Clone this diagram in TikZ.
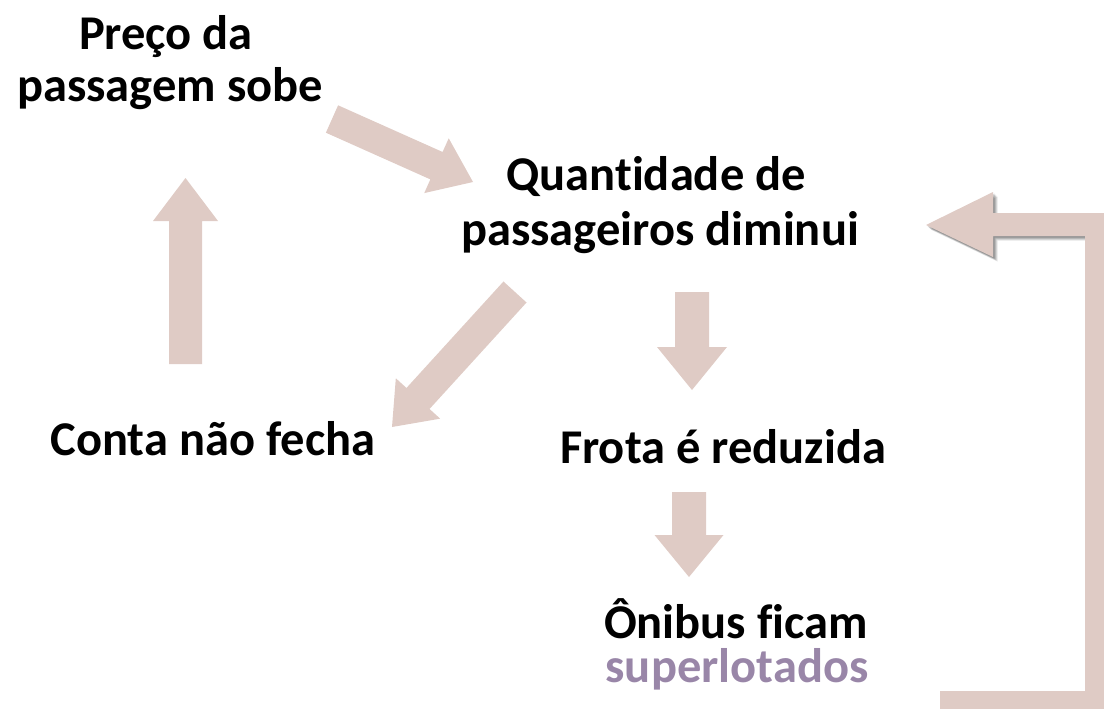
\documentclass[tikz,border=0pt]{standalone}
\usepackage{fontspec}
\setmainfont{Carlito}[Ligatures=NoCommon]
\usetikzlibrary{calc}
\definecolor{arrowfill}{RGB}{223,203,197}
\definecolor{lilac}{RGB}{153,134,168}
\tikzset{
  label/.style={anchor=base, inner sep=0pt, font=\fontsize{48.5}{58}\selectfont\bfseries, text=black},
  blockarrow/.style={fill=arrowfill, draw=none},
}
% \barrow{tail}{tip}{shaft half}{head half}{head length}
\newcommand\barrow[5]{%
  \coordinate (ba-c) at ($#2!#5!#1$);
  \fill[blockarrow]
    ($#1!#3!90:#2$) -- ($(ba-c)!#3!-90:#1$) -- ($(ba-c)!#4!-90:#1$) -- #2 --
    ($(ba-c)!#4!90:#1$) -- ($(ba-c)!#3!90:#1$) -- ($#1!#3!-90:#2$) -- cycle;
}
\begin{document}
\begin{tikzpicture}[x=1pt,y=-1pt]
\useasboundingbox (0,0) rectangle (1104,709);
\clip (0,0) rectangle (1104,709);

% labels
\node[label] (preco1) at (166,50) {Preço da};
\node[label] (preco2) at (170,102) {passagem sobe};
\node[label] (quant1) at (656,190) {Quantidade de};
\node[label] (quant2) at (660,245) {passageiros diminui};
\node[label] (conta) at (213,455) {Conta não fecha};
\node[label] (frota) at (723,463) {Frota é reduzida};
\node[label] (onibus1) at (736,638) {Ônibus ficam};
\node[label, text=lilac] (onibus2) at (737,682) {superlotados};

% block arrows
\barrow{(332,119)}{(473,182)}{15pt}{30pt}{40pt}
\barrow{(185.5,364)}{(185.5,178)}{16.5pt}{32.5pt}{43pt}
\barrow{(515,292)}{(392,427)}{15.6pt}{30pt}{38.6pt}
\barrow{(692,292)}{(692,390)}{17pt}{35pt}{43pt}
\barrow{(689,492)}{(689,577)}{17pt}{34.5pt}{42pt}

% return arrow with soft shadow
\foreach \o/\op in {4.5/0.10, 3.5/0.12, 2.5/0.14, 1.5/0.14} {
  \fill[black, opacity=\op, shift={(\o,\o)}]
    (926,225) -- (993,192) -- (993,213) -- (1109,213) -- (1109,715) --
    (940,715) -- (940,691) -- (1085,691) -- (1085,236) -- (993,236) --
    (993,257) -- cycle;
}
\fill[blockarrow] (926,225) -- (993,192) -- (993,213) -- (1109,213) -- (1109,715) --
  (940,715) -- (940,691) -- (1085,691) -- (1085,236) -- (993,236) --
  (993,257) -- cycle;
\end{tikzpicture}
\end{document}
